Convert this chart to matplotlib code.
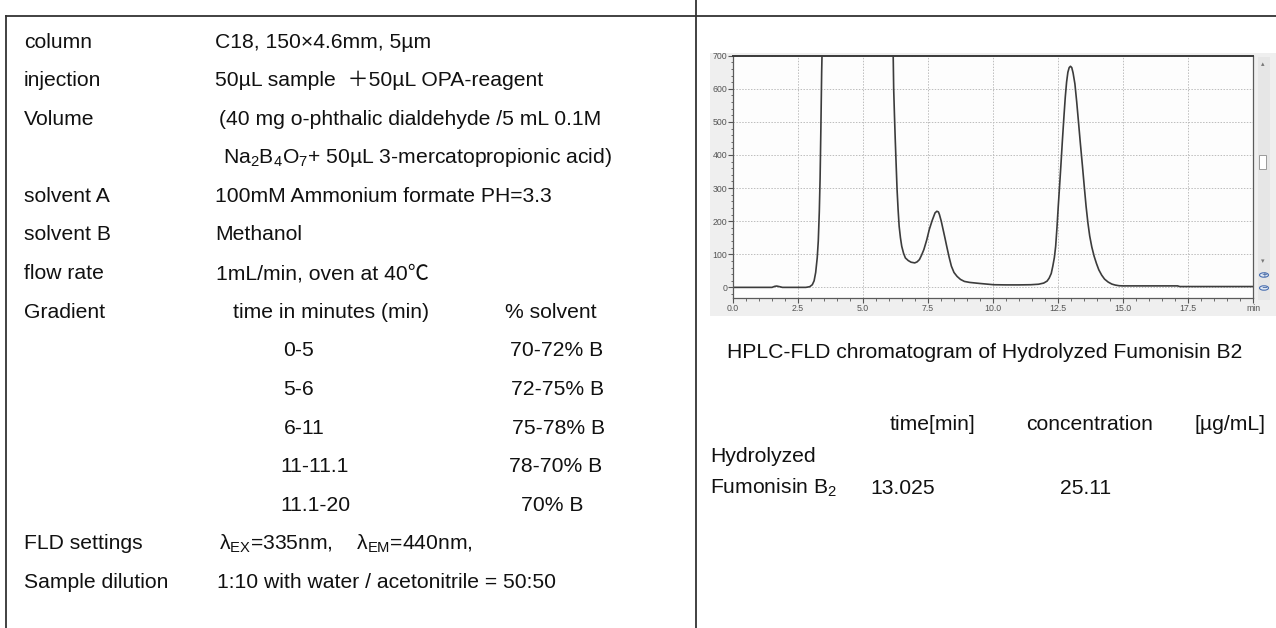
import matplotlib
matplotlib.use("Agg")
import matplotlib.pyplot as plt
from matplotlib.lines import Line2D
from matplotlib.patches import Rectangle, Circle
from matplotlib.ticker import MultipleLocator, FixedLocator

plt.rcParams['font.family'] = ['Liberation Sans', 'Noto Sans CJK SC', 'DejaVu Sans']
plt.rcParams['mathtext.fontset'] = 'custom'
plt.rcParams['mathtext.rm'] = 'Liberation Sans'
plt.rcParams['mathtext.it'] = 'Liberation Sans:italic'
plt.rcParams['mathtext.bf'] = 'Liberation Sans:bold'

# ---------------- data ----------------
param_labels = ["column", "injection", "Volume", "", "solvent A", "solvent B",
                "flow rate", "Gradient", "", "", "", "", "", "FLD settings",
                "Sample dilution"]
param_values = ["C18, 150×4.6mm, 5µm",
                "50µL sample  ＋50µL OPA-reagent",
                "(40 mg o-phthalic dialdehyde /5 mL 0.1M",
                "Na$_2$B$_4$O$_7$+ 50µL 3-mercatopropionic acid)",
                "100mM Ammonium formate PH=3.3",
                "Methanol",
                "1mL/min, oven at 40℃",
                "",
                "", "", "", "", "",
                "λ$_{\\mathrm{EX}}$=335nm,    λ$_{\\mathrm{EM}}$=440nm,",
                "1:10 with water / acetonitrile = 50:50"]
gradient_header = ["time in minutes (min)", "% solvent"]
gradient_times = ["0-5", "5-6", "6-11", "11-11.1", "11.1-20"]
gradient_solvent = ["70-72% B", "72-75% B", "75-78% B", "78-70% B", "70% B"]

caption = "HPLC-FLD chromatogram of Hydrolyzed Fumonisin B2"
result_header = ["time[min]", "concentration", "[µg/mL]"]
result_name = ["Hydrolyzed", "Fumonisin B$_2$"]
result_time = "13.025"
result_conc = "25.11"

# chromatogram trace (time in min, signal)
trace_t = [0.0, 1.5, 1.6, 1.68, 1.8, 1.9, 2.8, 2.95, 3.05, 3.12, 3.18, 3.24,
           3.28, 3.32, 3.35, 3.38, 3.41, 3.45, 3.6, 6.1, 6.15, 6.18, 6.21,
           6.24, 6.28, 6.31, 6.35, 6.39, 6.44, 6.49, 6.56, 6.63, 6.74, 6.85,
           6.99, 7.08, 7.17, 7.25, 7.34, 7.45, 7.55, 7.66, 7.77, 7.84, 7.9,
           7.94, 8.01, 8.08, 8.15, 8.22, 8.31, 8.40, 8.5, 8.62, 8.75, 8.90,
           9.1, 9.47, 10.03, 10.5, 11.0, 11.45, 11.75, 11.95, 12.08, 12.16,
           12.24, 12.3, 12.36, 12.41, 12.46, 12.51, 12.56, 12.61, 12.67,
           12.73, 12.78, 12.83, 12.88, 12.93, 12.98, 13.03, 13.08, 13.15,
           13.22, 13.29, 13.36, 13.44, 13.51, 13.58, 13.65, 13.72, 13.8,
           13.89, 13.98, 14.07, 14.18, 14.29, 14.43, 14.57, 14.7, 14.85,
           15.0, 16.0, 17.1, 17.18, 18.5, 20.0]
trace_v = [0.0, 0.0, 3.0, 4.0, 2.0, 0.0, 0.0, 2.0, 8.0, 20.0, 45.0, 90.0,
           140.0, 230.0, 330.0, 480.0, 650.0, 800.0, 1500.0, 1500.0, 760.0,
           600.0, 520.0, 447.0, 360.0, 296.0, 235.0, 185.0, 150.0, 124.0,
           103.0, 89.0, 81.0, 76.0, 74.0, 77.0, 84.0, 97.0, 114.0, 143.0,
           175.0, 202.0, 225.0, 230.0, 228.0, 220.0, 200.0, 175.0, 150.0,
           124.0, 92.0, 64.0, 45.0, 33.0, 24.0, 18.0, 15.0, 12.0, 8.0, 7.5,
           7.5, 8.0, 9.5, 13.0, 19.0, 28.0, 42.0, 64.0, 90.0, 124.0, 180.0,
           245.0, 305.0, 367.0, 445.0, 518.0, 575.0, 620.0, 650.0, 664.0,
           668.0, 664.0, 648.0, 615.0, 560.0, 498.0, 435.0, 367.0, 305.0,
           245.0, 195.0, 155.0, 122.0, 94.0, 72.0, 53.0, 37.0, 25.0, 16.0,
           10.0, 7.0, 5.0, 4.5, 4.5, 4.5, 2.5, 2.5, 2.5]

x_ticks = [0.0, 2.5, 5.0, 7.5, 10.0, 12.5, 15.0, 17.5, 20.0]
x_tick_labels = ["0.0", "2.5", "5.0", "7.5", "10.0", "12.5", "15.0", "17.5", "min"]
y_ticks = [0, 100, 200, 300, 400, 500, 600, 700]

# ---------------- figure ----------------
W, H = 1276, 628
fig = plt.figure(figsize=(W / 100, H / 100), dpi=100)
fig.patch.set_facecolor("white")


def fx(px):
    return px / W


def fy(py):
    return 1 - py / H


def hline(x0, x1, y, lw=1.3, color="#333333"):
    fig.add_artist(Line2D([fx(x0), fx(x1)], [fy(y), fy(y)], transform=fig.transFigure,
                          color=color, lw=lw))


def vline(x, y0, y1, lw=1.3, color="#333333"):
    fig.add_artist(Line2D([fx(x), fx(x)], [fy(y0), fy(y1)], transform=fig.transFigure,
                          color=color, lw=lw))


# table borders
hline(6, W, 16)
vline(6, 16, H)
vline(696, 0, H)

FS = 15.2
TXT = "#111111"


def txt(x, y, s, ha="left", size=FS, **kw):
    fig.text(fx(x), fy(y), s, ha=ha, va="center", fontsize=size, color=TXT, **kw)


# left column text
row0, dy = 42, 38.6
value_x = [215, 215, 219, 223, 215, 215, 216, 0, 0, 0, 0, 0, 0, 219, 217]
for i, (lab, val) in enumerate(zip(param_labels, param_values)):
    y = row0 + i * dy
    if lab:
        txt(24, y, lab)
    if val:
        txt(value_x[i], y, val)

yg = row0 + 7 * dy
txt(233, yg, gradient_header[0])
txt(505, yg, gradient_header[1])
time_x = [283, 283, 284, 280, 280]
solv_x = [510, 511, 512, 509, 521]
for j, (tt, ss) in enumerate(zip(gradient_times, gradient_solvent)):
    y = row0 + (8 + j) * dy
    txt(time_x[j], y, tt)
    txt(solv_x[j], y, ss)

# right side text
txt(985, 352, caption, ha="center")
txt(890, 424, result_header[0])
txt(1026, 424, result_header[1])
txt(1194, 424, result_header[2])
txt(710, 456, result_name[0])
txt(710, 488, result_name[1])
txt(870, 488, result_time)
txt(1060, 488, result_conc)

# chromatogram widget background
fig.add_artist(Rectangle((fx(710), fy(316)), fx(1276) - fx(710), fy(53) - fy(316),
                         transform=fig.transFigure, facecolor="#efefef",
                         edgecolor="none", zorder=-1))

ax_l, ax_r, ax_t, ax_b = 733, 1253, 55.7, 298.3
ax = fig.add_axes([fx(ax_l), fy(ax_b), fx(ax_r) - fx(ax_l), fy(ax_t) - fy(ax_b)])
ax.set_facecolor("#fdfdfd")
ax.plot(trace_t, trace_v, color="#3c3c3c", lw=1.2)
ax.set_xlim(0, 20)
ax.set_ylim(-33, 700)
ax.xaxis.set_major_locator(FixedLocator(x_ticks))
ax.set_xticklabels(x_tick_labels)
ax.xaxis.set_minor_locator(MultipleLocator(0.5))
ax.yaxis.set_major_locator(FixedLocator(y_ticks))
ax.yaxis.set_minor_locator(MultipleLocator(20))
ax.tick_params(which="major", direction="out", length=3.5, width=0.8, color="#555555",
               labelsize=6.3, labelcolor="#555555", pad=0.8)
ax.tick_params(which="minor", direction="out", length=1.8, width=0.6, color="#555555")
ax.grid(True, which="major", color="#bdbdbd", linestyle=(0, (1.5, 1.5)), lw=0.7)
for side in ["left", "bottom", "right"]:
    ax.spines[side].set_color("#5a5a5a")
    ax.spines[side].set_linewidth(0.9)
ax.spines["top"].set_color("#3a3a3a")
ax.spines["top"].set_linewidth(1.4)

# mask above widget (cuts the top tick label like the screenshot)
fig.add_artist(Rectangle((fx(700), fy(53)), fx(740) - fx(700), fy(40) - fy(53),
                         transform=fig.transFigure, facecolor="white",
                         edgecolor="none", zorder=5))

# scrollbar on the right of widget
fig.add_artist(Rectangle((fx(1258), fy(300)), fx(1270) - fx(1258), fy(57) - fy(300),
                         transform=fig.transFigure, facecolor="#e6e6e6",
                         edgecolor="none", zorder=1))
fig.add_artist(Rectangle((fx(1259), fy(169)), fx(1266) - fx(1259), fy(155) - fy(169),
                         transform=fig.transFigure, facecolor="white",
                         edgecolor="#9a9a9a", lw=0.7, zorder=2))
fig.text(fx(1263), fy(64), "▴", ha="center", va="center", fontsize=5,
         color="#777777", family="DejaVu Sans")
fig.text(fx(1263), fy(261), "▾", ha="center", va="center", fontsize=5,
         color="#777777", family="DejaVu Sans")
for cy, sym in [(275, "+"), (288, "−")]:
    fig.add_artist(Circle((fx(1264), fy(cy)), 4.5 / W, transform=fig.transFigure,
                          facecolor="#dfe8f5", edgecolor="#4a6fb0", lw=0.8, zorder=2))
    fig.text(fx(1264), fy(cy), sym, ha="center", va="center", fontsize=5,
             color="#2a4f90", family="DejaVu Sans", zorder=3)

fig.savefig("out.png", dpi=100)
